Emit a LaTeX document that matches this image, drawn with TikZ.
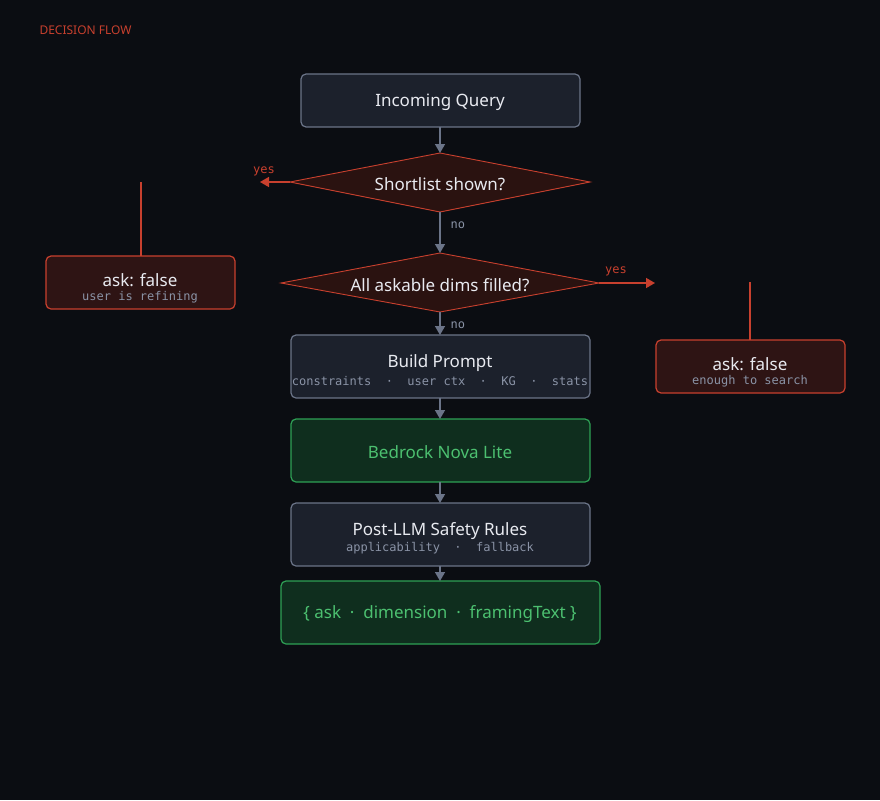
\documentclass[tikz,border=0pt]{standalone}
\usepackage{fontspec}
\setmainfont{Noto Sans}
\newfontfamily\mono{DejaVu Sans Mono}
\usetikzlibrary{arrows.meta}
\definecolor{bg}{HTML}{0B0D12}
\definecolor{boxf}{HTML}{1C212C}
\definecolor{boxd}{HTML}{6B7488}
\definecolor{dfill}{HTML}{2A1210}
\definecolor{red}{HTML}{C8402E}
\definecolor{askf}{HTML}{2E1414}
\definecolor{gf}{HTML}{0F2E1E}
\definecolor{gd}{HTML}{2EA055}
\definecolor{gt}{HTML}{4CC070}
\definecolor{sub}{HTML}{8A93A6}
\definecolor{wt}{HTML}{E8EAF0}
\begin{document}
\begin{tikzpicture}[x=1pt,y=-1pt,
  box/.style={draw=boxd,fill=boxf,rounded corners=5pt,line width=1.2pt},
  gbox/.style={draw=gd,fill=gf,rounded corners=5pt,line width=1.2pt},
  abox/.style={draw=red,fill=askf,rounded corners=5pt,line width=1.2pt},
  dia/.style={draw=red,fill=dfill,line width=0.9pt},
  main/.style={font=\fontsize{17}{20}\selectfont,text=wt},
  subt/.style={font=\mono\fontsize{12}{14}\selectfont,text=sub},
  lab/.style={font=\mono\fontsize{12}{14}\selectfont},
  ga/.style={draw=boxd,line width=1.5pt,-{Triangle[length=9pt,width=10pt]}},
  ra/.style={draw=red,line width=1.5pt,-{Triangle[length=9pt,width=10pt]}}]
\fill[bg] (0,0) rectangle (880,800);
\node[anchor=west,text=red,font=\fontsize{12}{14}\selectfont] (title) at (36,30) {DECISION FLOW};
% boxes
\draw[box] (301,74) rectangle (580,127);
\node[main] (q) at (440,102) {Incoming Query};
\coordinate (qb) at (440,127);
\draw[dia] (290,182) -- (440,153) -- (590,182) -- (440,212) -- cycle;
\node[main] (d1) at (440,184) {Shortlist shown?};
\coordinate (d1t) at (440,153); \coordinate (d1b) at (440,212); \coordinate (d1l) at (290,182);
\coordinate (y1) at (260,182);
\draw[dia] (281,283) -- (440,253) -- (599,283) -- (440,312) -- cycle;
\node[main] (d2) at (440,285) {All askable dims filled?};
\coordinate (d2t) at (440,253); \coordinate (d2b) at (440,312); \coordinate (d2r) at (599,283);
\coordinate (y2) at (655,283);
\draw[box] (291,335) rectangle (590,398);
\node[main] (bp) at (440,363) {Build Prompt};
\node[subt] (bps) at (440,381) {constraints\ \ ·\ \ user ctx\ \ ·\ \ KG\ \ ·\ \ stats};
\coordinate (bpt) at (440,335); \coordinate (bpb) at (440,398);
\draw[gbox] (291,419) rectangle (590,482);
\node[main,text=gt] (br) at (440,452) {Bedrock Nova Lite};
\coordinate (brt) at (440,419); \coordinate (brb) at (440,482);
\draw[box] (291,503) rectangle (590,566);
\node[main] (ps) at (440,531) {Post-LLM Safety Rules};
\node[subt] (pss) at (440,548) {applicability\ \ ·\ \ fallback};
\coordinate (pst) at (440,503); \coordinate (psb) at (440,566);
\draw[gbox] (281,581) rectangle (600,644);
\node[main,text=gt] (out) at (440,614) {\{ ask\ \ ·\ \ dimension\ \ ·\ \ framingText \}};
\coordinate (outt) at (440,581);
% ask boxes
\draw[abox] (46,256) rectangle (235,309);
\node[main] (a1) at (140,280) {ask: false};
\node[subt] (a1s) at (140,297) {user is refining};
\draw[abox] (656,340) rectangle (845,393);
\node[main] (a2) at (750,364) {ask: false};
\node[subt] (a2s) at (750,381) {enough to search};
\coordinate (l1a) at (141,182); \coordinate (l1b) at (141,256);
\coordinate (l2a) at (750,282); \coordinate (l2b) at (750,340);
\draw[red,line width=1.2pt] (l1a) -- (l1b);
\draw[red,line width=1.2pt] (l2a) -- (l2b);
% arrows
\draw[ga] (qb) -- (d1t);
\draw[ga] (d1b) -- (d2t);
\draw[ga] (d2b) -- (bpt);
\draw[ga] (bpb) -- (brt);
\draw[ga] (brb) -- (pst);
\draw[ga] (psb) -- (outt);
\draw[ra] (d1l) -- (y1);
\draw[ra] (d2r) -- (y2);
\node[lab,text=red] (yes1) at (264,171) {yes};
\node[lab,text=red] (yes2) at (616,271) {yes};
\node[lab,text=sub,anchor=west] (no1) at (447,225) {no};
\node[lab,text=sub,anchor=west] (no2) at (447,325) {no};
\end{tikzpicture}
\end{document}
